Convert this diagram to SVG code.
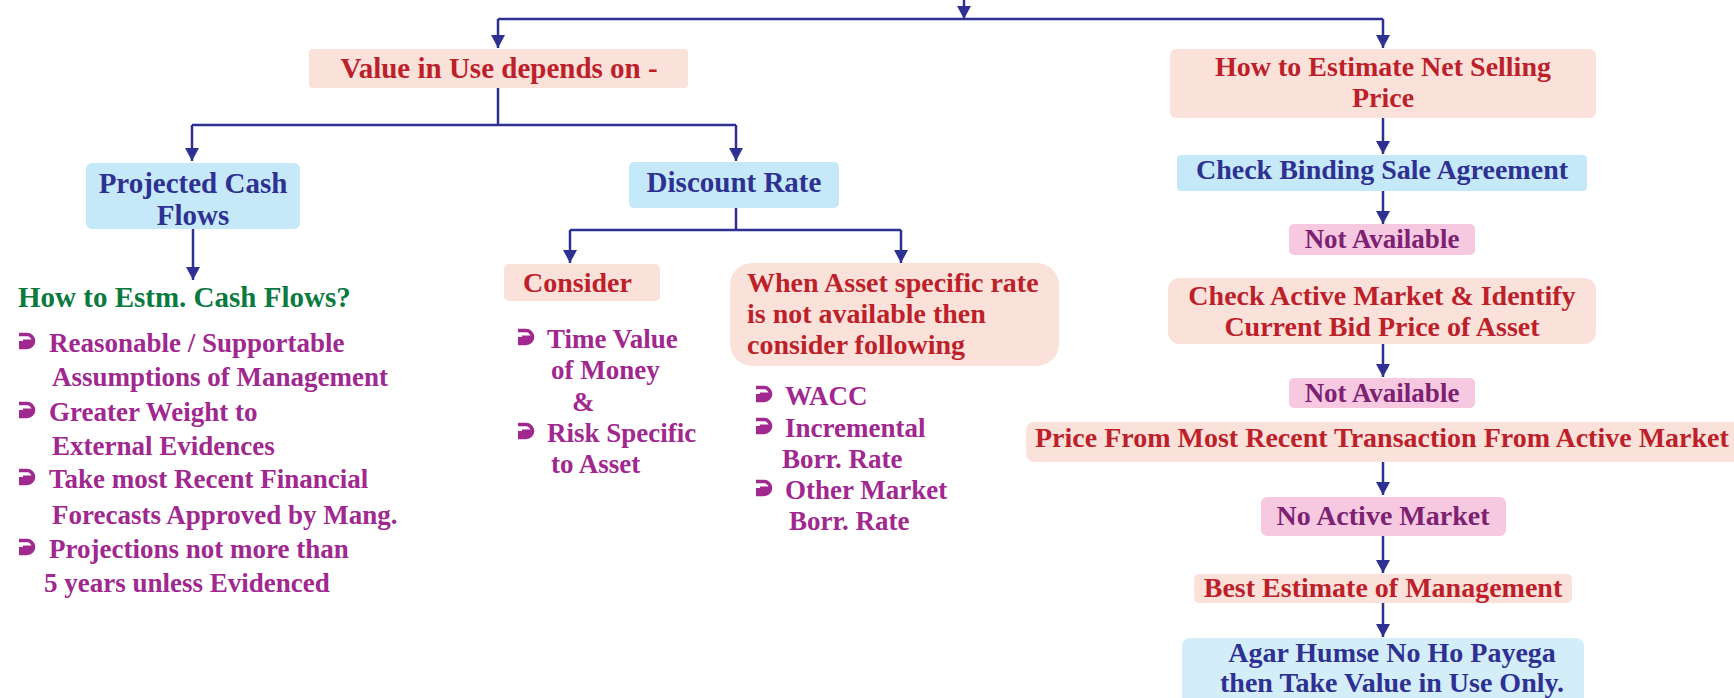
<svg xmlns="http://www.w3.org/2000/svg" width="1734" height="698" viewBox="0 0 1734 698">
  <defs>
    <marker id="arrow" markerUnits="userSpaceOnUse" markerWidth="15" markerHeight="15" viewBox="0 0 15 15" refX="13" refY="7.5" orient="auto">
      <path d="M0,0.5 L13,7.5 L0,14.5 Z" fill="#2e3192"/>
    </marker>
    <!-- hooked list bullet -->
    <symbol id="bullet" viewBox="0 0 22 19">
      <path d="M2,9 H17 A7,7 0 0 1 10,16 H2 Z" fill="#a0288f"/>
      <path d="M2,2.5 H10 A6.5,6.5 0 0 1 10,15.5 H2" fill="none" stroke="#a0288f" stroke-width="3.6"/>
      <path d="M6,9 H16.5" fill="none" stroke="#a0288f" stroke-width="3"/>
    </symbol>
    <style>
      text { font-family: "Liberation Serif", "Times New Roman", serif; font-weight: bold; }
      .salmon { fill: #fae2da; }
      .blue { fill: #c6e9f9; }
      .lblue { fill: #d3edf9; }
      .pink { fill: #f6c9e0; }
      .red { fill: #bd1f2b; }
      .navy { fill: #2e3192; }
      .plum { fill: #7d2172; }
      .mag { fill: #a0288f; }
      .green { fill: #0b7a3f; }
      .f29 { font-size: 29px; }
      .f28 { font-size: 28px; }
      .f27 { font-size: 27px; }
      .mid { text-anchor: middle; }
      .wire { fill: none; stroke: #2e3192; stroke-width: 2.5; }
    </style>
  </defs>

  <rect width="1734" height="698" fill="#ffffff"/>

  <!-- connectors -->
  <g id="connectors" class="wire">
    <path d="M964,0 V19" marker-end="url(#arrow)"/>
    <path d="M498,19 H1383"/>
    <path d="M498,19 V48" marker-end="url(#arrow)"/>
    <path d="M1383,19 V48" marker-end="url(#arrow)"/>
    <path d="M498,88 V125"/>
    <path d="M192,125 H736"/>
    <path d="M192,125 V161" marker-end="url(#arrow)"/>
    <path d="M736,125 V161" marker-end="url(#arrow)"/>
    <path d="M193,229 V280" marker-end="url(#arrow)"/>
    <path d="M736,208 V230"/>
    <path d="M570,230 H901"/>
    <path d="M570,230 V263" marker-end="url(#arrow)"/>
    <path d="M901,230 V263" marker-end="url(#arrow)"/>
    <path d="M1383,118 V154" marker-end="url(#arrow)"/>
    <path d="M1383,191 V224" marker-end="url(#arrow)"/>
    <path d="M1383,344 V377" marker-end="url(#arrow)"/>
    <path d="M1383,462 V495" marker-end="url(#arrow)"/>
    <path d="M1383,536 V573" marker-end="url(#arrow)"/>
    <path d="M1383,603 V637" marker-end="url(#arrow)"/>
  </g>

  <!-- value in use branch -->
  <g id="value-in-use">
    <rect class="salmon" x="309" y="49" width="379" height="39" rx="4"/>
    <text class="red f29 mid" x="499" y="78">Value in Use depends on -</text>
  </g>

  <g id="projected-cash-flows">
    <rect class="blue" x="86" y="163" width="214" height="66" rx="6"/>
    <text class="navy f29 mid" x="193" y="193">Projected Cash</text>
    <text class="navy f29 mid" x="193" y="225">Flows</text>
  </g>

  <g id="estimate-cash-flows">
    <text class="green f29" x="18" y="307">How to Estm. Cash Flows?</text>
    <use href="#bullet" x="17" y="332" width="22" height="19"/>
    <text class="mag f27" x="49" y="352">Reasonable / Supportable</text>
    <text class="mag f27" x="52" y="386">Assumptions of Management</text>
    <use href="#bullet" x="17" y="401" width="22" height="19"/>
    <text class="mag f27" x="49" y="421">Greater Weight to</text>
    <text class="mag f27" x="52" y="455">External Evidences</text>
    <use href="#bullet" x="17" y="468" width="22" height="19"/>
    <text class="mag f27" x="49" y="488">Take most Recent Financial</text>
    <text class="mag f27" x="52" y="524">Forecasts Approved by Mang.</text>
    <use href="#bullet" x="17" y="538" width="22" height="19"/>
    <text class="mag f27" x="49" y="558">Projections not more than</text>
    <text class="mag f27" x="44" y="592">5 years unless Evidenced</text>
  </g>

  <g id="discount-rate">
    <rect class="blue" x="629" y="162" width="210" height="46" rx="5"/>
    <text class="navy f29 mid" x="734" y="192">Discount Rate</text>
  </g>

  <g id="consider">
    <rect class="salmon" x="504" y="264" width="156" height="37" rx="5"/>
    <text class="red f28" x="523" y="292">Consider</text>
  </g>

  <g id="consider-items">
    <use href="#bullet" x="516" y="328" width="22" height="19"/>
    <text class="mag f27" x="547" y="348">Time Value</text>
    <text class="mag f27" x="551" y="379">of Money</text>
    <text class="mag f27" x="572" y="411">&amp;</text>
    <use href="#bullet" x="516" y="422" width="22" height="19"/>
    <text class="mag f27" x="547" y="442">Risk Specific</text>
    <text class="mag f27" x="551" y="473">to Asset</text>
  </g>

  <g id="asset-rate-unavailable">
    <rect class="salmon" x="730" y="263" width="329" height="103" rx="22"/>
    <text class="red f28" x="747" y="292">When Asset specific rate</text>
    <text class="red f28" x="747" y="323">is not available then</text>
    <text class="red f28" x="747" y="354">consider following</text>
  </g>

  <g id="alternative-rates">
    <use href="#bullet" x="754" y="385" width="22" height="19"/>
    <text class="mag f27" x="785" y="405">WACC</text>
    <use href="#bullet" x="754" y="417" width="22" height="19"/>
    <text class="mag f27" x="785" y="437">Incremental</text>
    <text class="mag f27" x="782" y="468">Borr. Rate</text>
    <use href="#bullet" x="754" y="479" width="22" height="19"/>
    <text class="mag f27" x="785" y="499">Other Market</text>
    <text class="mag f27" x="789" y="530">Borr. Rate</text>
  </g>

  <!-- net selling price branch -->
  <g id="net-selling-price">
    <rect class="salmon" x="1170" y="49" width="426" height="69" rx="6"/>
    <text class="red f28 mid" x="1383" y="76">How to Estimate Net Selling</text>
    <text class="red f28 mid" x="1383" y="107">Price</text>
  </g>

  <g id="binding-sale">
    <rect class="blue" x="1177" y="155" width="410" height="36" rx="4"/>
    <text class="navy f28 mid" x="1382" y="179">Check Binding Sale Agreement</text>
  </g>

  <g id="not-available-1">
    <rect class="pink" x="1289" y="224" width="186" height="31" rx="5"/>
    <text class="plum f27 mid" x="1382" y="248">Not Available</text>
  </g>

  <g id="active-market">
    <rect class="salmon" x="1168" y="278" width="428" height="66" rx="12"/>
    <text class="red f28 mid" x="1382" y="305">Check Active Market &amp; Identify</text>
    <text class="red f28 mid" x="1382" y="336">Current Bid Price of Asset</text>
  </g>

  <g id="not-available-2">
    <rect class="pink" x="1289" y="378" width="186" height="30" rx="5"/>
    <text class="plum f27 mid" x="1382" y="402">Not Available</text>
  </g>

  <g id="recent-transaction">
    <rect class="salmon" x="1026" y="422" width="720" height="40" rx="8"/>
    <text class="red f28" x="1035" y="447">Price From Most Recent Transaction From Active Market</text>
  </g>

  <g id="no-active-market">
    <rect class="pink" x="1261" y="497" width="245" height="39" rx="6"/>
    <text class="plum f28 mid" x="1383" y="525">No Active Market</text>
  </g>

  <g id="best-estimate">
    <rect class="salmon" x="1194" y="574" width="378" height="29" rx="5"/>
    <text class="red f28 mid" x="1383" y="597">Best Estimate of Management</text>
  </g>

  <g id="value-in-use-fallback">
    <rect class="lblue" x="1182" y="638" width="402" height="80" rx="8"/>
    <text class="navy f28 mid" x="1392" y="662">Agar Humse No Ho Payega</text>
    <text class="navy f28 mid" x="1392" y="692">then Take Value in Use Only.</text>
  </g>
</svg>
